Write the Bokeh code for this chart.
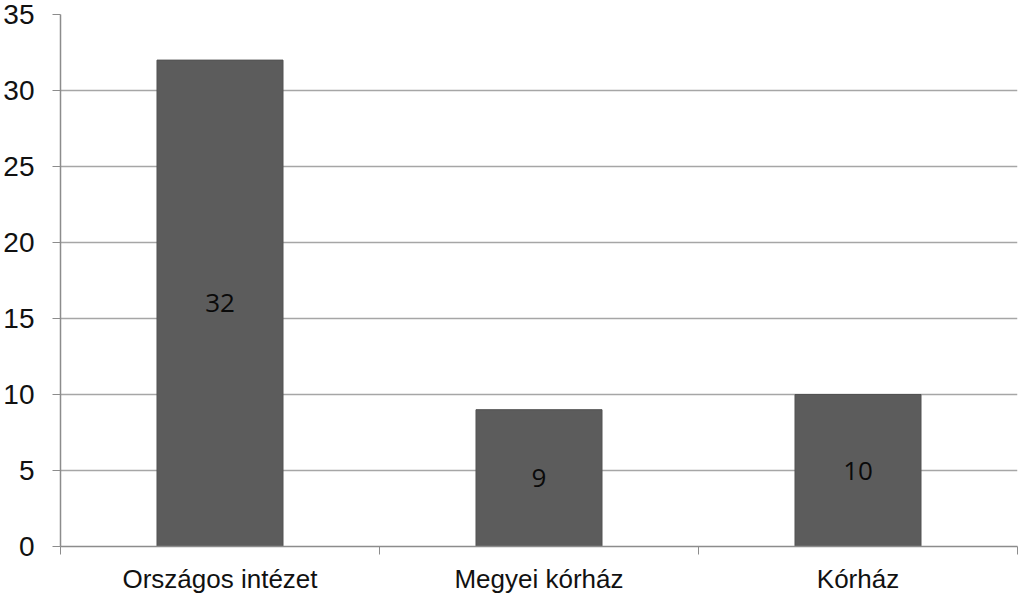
from bokeh.plotting import figure
from bokeh.models import FixedTicker, ColumnDataSource, LabelSet
from bokeh.core.properties import value
from bokeh.embed import file_html
from bokeh.resources import INLINE

categories = ["Országos intézet", "Megyei kórház", "Kórház"]
counts = [32, 9, 10]
y_ticks = [0, 5, 10, 15, 20, 25, 30, 35]

xs = [i + 0.5 for i in range(len(categories))]
src = ColumnDataSource(dict(x=xs, top=counts, mid=[c / 2 for c in counts],
                            lab=[str(c) for c in counts]))

p = figure(frame_width=957, frame_height=532, min_border_left=60, min_border_top=14,
           min_border_right=4, min_border_bottom=40,
           x_range=(0, len(categories)), y_range=(0, 35),
           output_backend="svg", toolbar_location=None)
p.outline_line_color = None
p.background_fill_color = "white"

p.vbar(x="x", top="top", bottom=0, width=0.395, source=src,
       fill_color="#5c5c5c", line_color="#525252", line_width=1)

labels = LabelSet(x="x", y="mid", text="lab", source=src, text_align="center",
                  text_baseline="middle", text_font=value("Open Sans"),
                  text_font_size="26px", text_color="#0a0a0a")
p.add_layout(labels)

# y axis
p.yaxis.ticker = FixedTicker(ticks=y_ticks)
p.yaxis.axis_line_color = "#8c8c8c"
p.yaxis.axis_line_width = 1.5
p.yaxis.major_tick_line_color = "#8c8c8c"
p.yaxis.major_tick_out = 8
p.yaxis.major_tick_in = 0
p.yaxis.minor_tick_line_color = None
p.yaxis.major_label_text_font = "Liberation Sans"
p.yaxis.major_label_text_font_size = "28px"
p.yaxis.major_label_text_color = "#111111"
p.yaxis.major_label_standoff = 18

# x axis
p.xaxis.ticker = FixedTicker(ticks=xs, minor_ticks=list(range(len(categories) + 1)))
p.xaxis.major_label_overrides = {x: c for x, c in zip(xs, categories)}
p.xaxis.axis_line_color = "#8c8c8c"
p.xaxis.axis_line_width = 1.5
p.xaxis.major_tick_line_color = None
p.xaxis.minor_tick_line_color = "#8c8c8c"
p.xaxis.minor_tick_out = 8
p.xaxis.minor_tick_in = 0
p.xaxis.major_label_text_font = "Liberation Sans"
p.xaxis.major_label_text_font_size = "26px"
p.xaxis.major_label_text_color = "#111111"
p.xaxis.major_label_standoff = 9

p.xgrid.grid_line_color = None
p.ygrid.grid_line_color = "#a6a6a6"
p.ygrid.grid_line_width = 1.5

open("out.html", "w").write(file_html(p, INLINE))
